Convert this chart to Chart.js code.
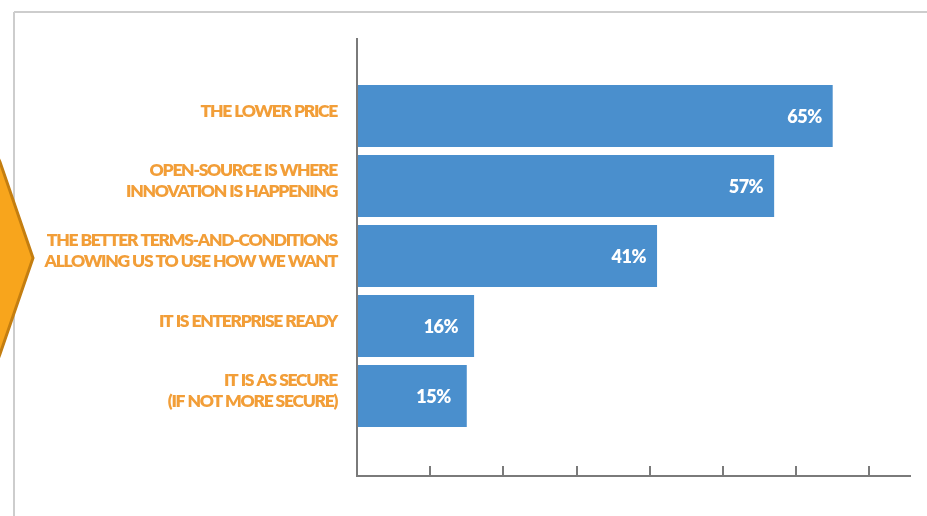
<!DOCTYPE html>
<html><head><meta charset="utf-8">
<style>html,body{margin:0;padding:0;background:#fff;overflow:hidden}#wrap{position:relative;width:927px;height:516px}</style>
<script src="https://cdn.jsdelivr.net/npm/chart.js@4/dist/chart.umd.min.js"></script>
</head><body><div id="wrap"><canvas id="c" width="927" height="516"></canvas></div>
<script>
const categories = [
  ["THE LOWER PRICE"],
  ["OPEN-SOURCE IS WHERE", "INNOVATION IS HAPPENING"],
  ["THE BETTER TERMS-AND-CONDITIONS", "ALLOWING US TO USE HOW WE WANT"],
  ["IT IS ENTERPRISE READY"],
  ["IT IS AS SECURE", "(IF NOT MORE SECURE)"]
];
const values = [65, 57, 41, 16, 15];
const xTicks = [0, 10, 20, 30, 40, 50, 60, 70];
const xMax = 75.7;

const BAR = '#4A8FCD';
const ORANGE = '#F29E38';
const AXIS = '#7a7a7a';

const framePlugin = {
  id: 'frame',
  beforeDraw(chart) {
    const ctx = chart.ctx;
    ctx.save();
    ctx.strokeStyle = '#cdcdcd';
    ctx.lineWidth = 2;
    ctx.beginPath();
    ctx.moveTo(14, 12); ctx.lineTo(927, 12);
    ctx.moveTo(14, 12); ctx.lineTo(14, 516);
    ctx.stroke();
    // orange chevron
    ctx.beginPath();
    ctx.moveTo(-10, 140);
    ctx.lineTo(0, 162);
    ctx.lineTo(33, 258);
    ctx.lineTo(0, 354);
    ctx.lineTo(-10, 380);
    ctx.closePath();
    ctx.fillStyle = '#F8A51C';
    ctx.fill();
    ctx.strokeStyle = '#C47E10';
    ctx.lineWidth = 3;
    ctx.stroke();
    ctx.restore();
    ctx.letterSpacing = '-1.3px';
    ctx.wordSpacing = '0.5px';
  }
};

const axisPlugin = {
  id: 'axes',
  afterDatasetsDraw(chart) {
    const ctx = chart.ctx;
    const xs = chart.scales.x;
    const area = chart.chartArea;
    const x0 = xs.getPixelForValue(0);
    const top = area.top - 43;
    const bottom = area.bottom + 45;
    ctx.save();
    ctx.strokeStyle = AXIS;
    ctx.lineWidth = 2;
    ctx.beginPath();
    ctx.moveTo(x0, top); ctx.lineTo(x0, bottom);
    ctx.lineTo(xs.getPixelForValue(xMax), bottom);
    xTicks.forEach(v => {
      if (v === 0) return;
      const px = Math.round(xs.getPixelForValue(v));
      ctx.moveTo(px, bottom - 10); ctx.lineTo(px, bottom);
    });
    ctx.stroke();
    // value labels
    ctx.letterSpacing = '-0.5px';
    ctx.wordSpacing = '0px';
    ctx.fillStyle = '#ffffff';
    ctx.font = '800 18px Lato';
    ctx.textAlign = 'right';
    ctx.textBaseline = 'middle';
    const meta = chart.getDatasetMeta(0);
    meta.data.forEach((bar, i) => {
      const pad = values[i] < 30 ? 16 : 11;
      ctx.fillText(values[i] + '%', bar.x - pad, bar.y + 1);
    });
    ctx.restore();
  }
};

new Chart(document.getElementById('c'), {
  type: 'bar',
  data: {
    labels: categories,
    datasets: [{
      data: values,
      backgroundColor: BAR,
      borderWidth: 0,
      categoryPercentage: 1,
      barPercentage: 62 / 70
    }]
  },
  options: {
    indexAxis: 'y',
    responsive: false,
    devicePixelRatio: 1,
    animation: false,
    layout: { padding: { left: 0, right: 16, top: 81, bottom: 85 } },
    plugins: { legend: { display: false }, tooltip: { enabled: false } },
    scales: {
      x: {
        display: false,
        min: 0,
        max: xMax
      },
      y: {
        afterFit(scale) { scale.width = 357; },
        grid: { display: false },
        border: { display: false },
        ticks: {
          color: ORANGE,
          padding: 12,
          labelOffset: -5,
          font: { family: 'Lato', weight: '800', size: 17.5, lineHeight: 1.23 }
        }
      }
    }
  },
  plugins: [framePlugin, axisPlugin]
});
</script>
</body></html>
